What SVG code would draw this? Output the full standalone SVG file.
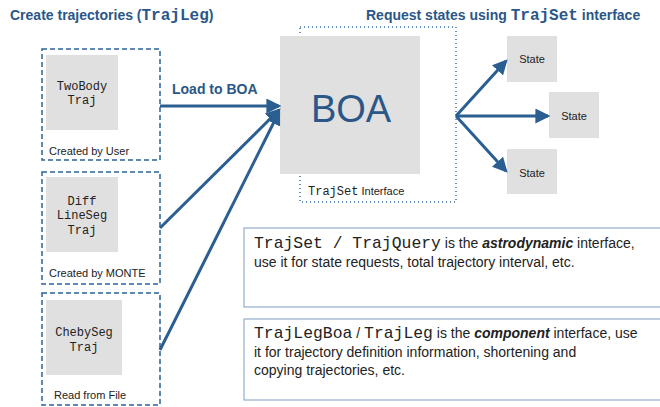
<svg xmlns="http://www.w3.org/2000/svg" width="660" height="407" viewBox="0 0 660 407">
<defs>
<marker id="ah" markerUnits="strokeWidth" markerWidth="5" markerHeight="5" refX="4.2" refY="2.5" orient="auto">
<path d="M0,0 L5,2.5 L0,5 z" fill="#2b5e91"/>
</marker>
<style>
.sans{font-family:"Liberation Sans",Arial,sans-serif}
.mono{font-family:"Liberation Mono","Courier New",monospace}
.title{font-size:14px;font-weight:bold;fill:#2a5788}
.gray{fill:#e0e0e0}
.dash{fill:none;stroke:#2e6196;stroke-width:1.5;stroke-dasharray:5,3}
.conn{fill:none;stroke:#2b5e91;stroke-width:3;marker-end:url(#ah)}
.small{font-size:11px;fill:#222}
.code{font-size:12px;fill:#222}
.note{fill:#fff;stroke:#7f9cc0;stroke-width:1}
.nt{font-size:14px;fill:#222}
</style>
</defs>
<rect width="660" height="407" fill="#fff"/>

<g id="title-left">
<text x="10" y="20" class="sans title">Create trajectories (<tspan class="mono" font-size="16px">TrajLeg</tspan>)</text>
</g>
<g id="title-right">
<text x="366" y="20" class="sans title">Request states using <tspan class="mono" font-size="16px">TrajSet</tspan> interface</text>
</g>

<g id="twobody">
<rect x="42" y="49" width="118" height="111" class="dash"/>
<rect x="46" y="55" width="72" height="75" class="gray"/>
<text x="82" y="90" text-anchor="middle" class="mono code">TwoBody</text>
<text x="82" y="104" text-anchor="middle" class="mono code">Traj</text>
<text x="49" y="155" class="sans small">Created by User</text>
</g>

<g id="difflineseg">
<rect x="42" y="172" width="118" height="112" class="dash"/>
<rect x="46" y="177" width="72" height="75" class="gray"/>
<text x="82" y="205" text-anchor="middle" class="mono code">Diff</text>
<text x="82" y="219" text-anchor="middle" class="mono code">LineSeg</text>
<text x="82" y="234" text-anchor="middle" class="mono code">Traj</text>
<text x="49" y="277" class="sans small">Created by MONTE</text>
</g>

<g id="chebyseg">
<rect x="42" y="293" width="118" height="112" class="dash"/>
<rect x="46" y="300" width="76" height="75" class="gray"/>
<text x="84" y="336" text-anchor="middle" class="mono code">ChebySeg</text>
<text x="84" y="351" text-anchor="middle" class="mono code">Traj</text>
<text x="54" y="399" class="sans small">Read from File</text>
</g>

<g id="boa">
<rect x="300" y="27" width="156" height="175" fill="none" stroke="#3a6ea5" stroke-width="1.5" stroke-dasharray="1,3"/>
<rect x="280" y="36" width="140" height="138" class="gray"/>
<text x="351" y="122" text-anchor="middle" class="sans" font-size="38px" fill="#2a5788">BOA</text>
<text x="308" y="195" class="sans small"><tspan class="mono code">TrajSet</tspan> Interface</text>
</g>

<g id="state1">
<rect x="507" y="36" width="50" height="46" class="gray"/>
<text x="532" y="63" text-anchor="middle" class="sans small">State</text>
</g>
<g id="state2">
<rect x="549" y="92" width="50" height="46" class="gray"/>
<text x="574" y="120" text-anchor="middle" class="sans small">State</text>
</g>
<g id="state3">
<rect x="507" y="149" width="50" height="45" class="gray"/>
<text x="532" y="177" text-anchor="middle" class="sans small">State</text>
</g>

<g id="connectors">
<line x1="160" y1="106" x2="279" y2="106" class="conn"/>
<line x1="160" y1="228" x2="279" y2="110" class="conn"/>
<line x1="160" y1="350" x2="279" y2="112" class="conn"/>
<line x1="456" y1="116" x2="506" y2="61" class="conn"/>
<line x1="456" y1="116" x2="548" y2="116" class="conn"/>
<line x1="456" y1="116" x2="506" y2="171" class="conn"/>
<text x="172" y="94" class="sans title">Load to BOA</text>
</g>

<g id="note-astro">
<rect x="244" y="228" width="430" height="79" class="note"/>
<text x="254" y="248" class="sans nt"><tspan class="mono" font-size="16.4px">TrajSet / TrajQuery</tspan> is the <tspan font-weight="bold" font-style="italic">astrodynamic</tspan> interface,</text>
<text x="254" y="267" class="sans nt">use it for state requests, total trajectory interval, etc.</text>
</g>

<g id="note-component">
<rect x="244" y="319" width="430" height="81" class="note"/>
<text x="254" y="338" class="sans nt"><tspan class="mono" font-size="16.4px">TrajLegBoa</tspan> / <tspan class="mono" font-size="16.4px">TrajLeg</tspan> is the <tspan font-weight="bold" font-style="italic">component</tspan> interface, use</text>
<text x="254" y="357" class="sans nt">it for trajectory definition information, shortening and</text>
<text x="254" y="375" class="sans nt">copying trajectories, etc.</text>
</g>
</svg>
